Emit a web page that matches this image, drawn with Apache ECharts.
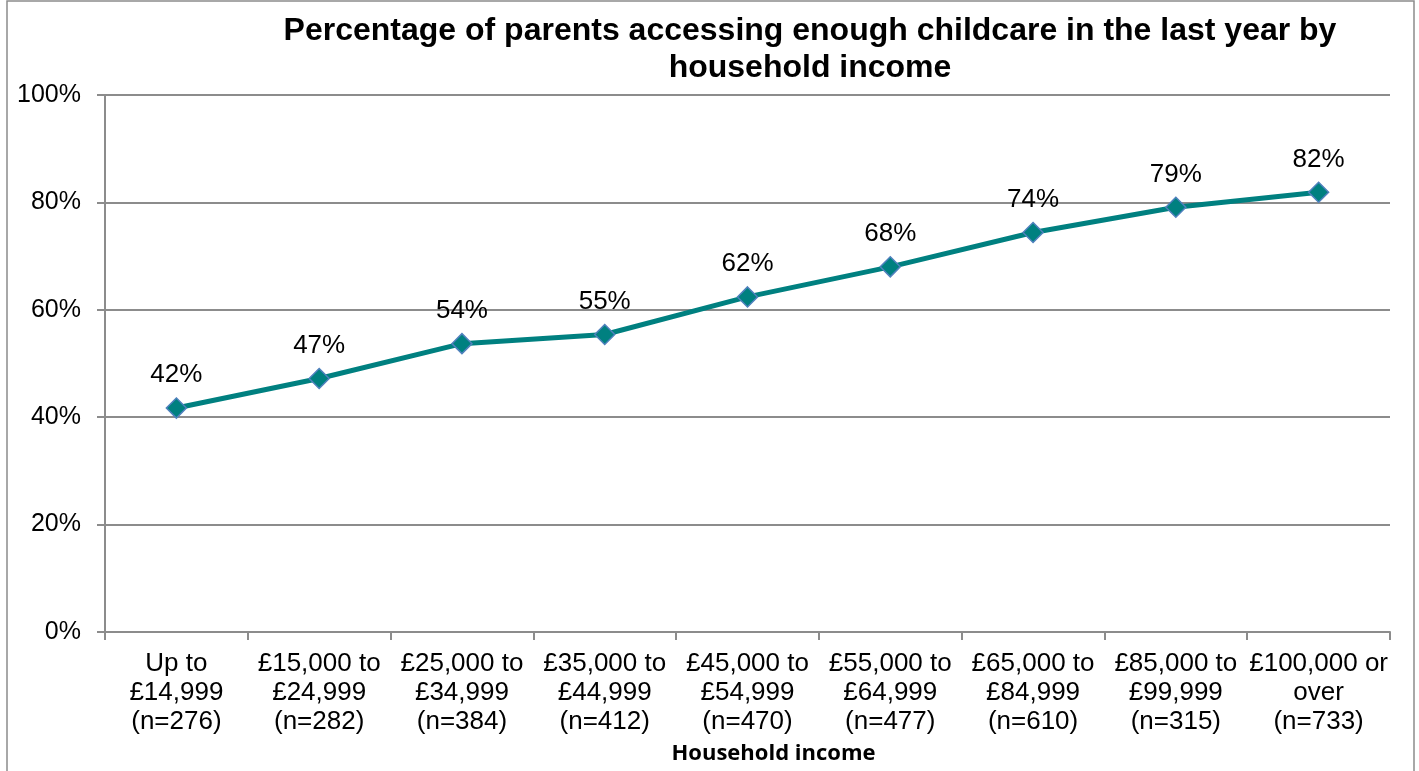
<!DOCTYPE html>
<html>
<head>
<meta charset="utf-8">
<title>Childcare by household income</title>
<script src="https://cdn.jsdelivr.net/npm/echarts@6/dist/echarts.min.js"></script>
<style>
  html, body { margin: 0; padding: 0; background: #fff; }
  #chart { width: 1419px; height: 771px; }
</style>
</head>
<body>
<div id="chart"></div>
<script>
// categories (income bands with sample sizes)
const incomeBands = [
  'Up to\n£14,999\n(n=276)',
  '£15,000 to\n£24,999\n(n=282)',
  '£25,000 to\n£34,999\n(n=384)',
  '£35,000 to\n£44,999\n(n=412)',
  '£45,000 to\n£54,999\n(n=470)',
  '£55,000 to\n£64,999\n(n=477)',
  '£65,000 to\n£84,999\n(n=610)',
  '£85,000 to\n£99,999\n(n=315)',
  '£100,000 or\nover\n(n=733)'
]
// percentage accessing enough childcare
const enoughChildcare = [41.7, 47.2, 53.7, 55.4, 62.4, 68.0, 74.4, 79.1, 81.9]

const font = '"Liberation Sans", Arial, sans-serif'
const chart = echarts.init(document.getElementById('chart'))

chart.setOption({
  animation: false,
  title: {
    text: 'Percentage of parents accessing enough childcare in the last year by\nhousehold income',
    left: 805,
    top: 8,
    textAlign: 'center',
    textStyle: {
      fontFamily: font,
      fontSize: 32,
      fontWeight: 'bold',
      color: '#000',
      lineHeight: 37
    }
  },
  graphic: [
    {
      type: 'rect',
      shape: { x: 7, y: 1, width: 1407, height: 820 },
      style: { fill: 'none', stroke: '#8c8c8c', lineWidth: 1.5 },
      silent: true
    }
  ],
  grid: { left: 105, right: 29, top: 95, bottom: 139 },
  xAxis: {
    type: 'category',
    data: incomeBands,
    name: 'Household income',
    nameLocation: 'middle',
    nameGap: 111,
    nameTextStyle: {
      fontFamily: '"Open Sans", sans-serif',
      fontSize: 22,
      fontWeight: 'bold',
      color: '#000',
      padding: [0, 0, 0, 52]
    },
    axisLine: { lineStyle: { color: '#8c8c8c', width: 2 } },
    axisTick: { show: true, length: 8, inside: false, lineStyle: { color: '#8c8c8c', width: 2 } },
    axisLabel: {
      fontFamily: font,
      fontSize: 26,
      color: '#000',
      lineHeight: 29,
      margin: 17,
      interval: 0
    }
  },
  yAxis: {
    type: 'value',
    min: 0,
    max: 100,
    interval: 20,
    axisLine: { show: true, lineStyle: { color: '#8c8c8c', width: 2 } },
    axisTick: { show: true, length: 8, lineStyle: { color: '#8c8c8c', width: 2 } },
    splitLine: { lineStyle: { color: '#8c8c8c', width: 2 } },
    axisLabel: {
      fontFamily: font,
      fontSize: 25,
      color: '#000',
      margin: 24,
      formatter: '{value}%'
    }
  },
  series: [
    {
      type: 'line',
      data: enoughChildcare,
      symbol: 'diamond',
      symbolSize: 20,
      lineStyle: { color: '#008080', width: 5 },
      itemStyle: { color: '#008080', borderColor: '#4f81bd', borderWidth: 1.5 },
      label: {
        show: true,
        position: 'top',
        distance: 9,
        fontFamily: font,
        fontSize: 26,
        color: '#000',
        formatter: p => Math.round(p.value) + '%'
      }
    }
  ]
})
</script>
</body>
</html>
